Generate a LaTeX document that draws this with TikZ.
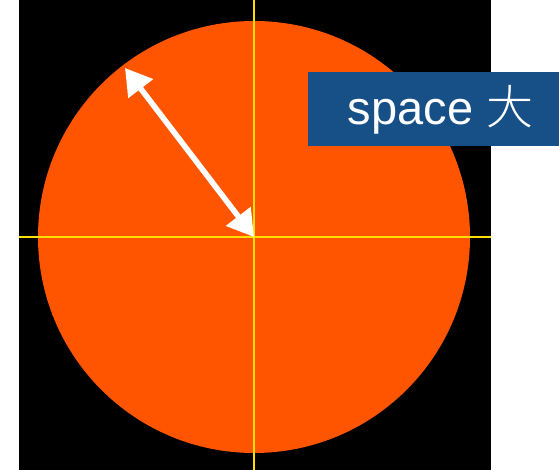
\documentclass[tikz,border=0pt]{standalone}
\usepackage{fontspec}
\setmainfont{Liberation Sans}
\newfontfamily\cjk{Noto Sans CJK SC Light}
\definecolor{skyblack}{RGB}{0,0,0}
\definecolor{sunorange}{RGB}{255,85,0}
\definecolor{axisyellow}{RGB}{255,224,0}
\definecolor{tagblue}{RGB}{23,80,135}
\usetikzlibrary{arrows.meta,positioning}

\begin{document}
\begin{tikzpicture}[x=0.5pt, y=-0.5pt,
        tagbox/.style={rectangle, fill=tagblue, inner sep=0pt, minimum width=125.5pt,
                       minimum height=37pt, text=white, font=\fontsize{23.5}{27}\selectfont},
        axisline/.style={axisyellow, line width=0.7pt},
        radarrow/.style={white, line width=2.8pt,
                         {Triangle[length=13pt, width=15pt]}-{Triangle[length=13pt, width=15pt]}}
      ]
        \useasboundingbox (0,0) rectangle (559,470);

        % Black backdrop
        \fill[skyblack] (19,0) rectangle (491,470);

        % Orange disc
        \coordinate (ctr) at (254,237);
        \fill[sunorange] (ctr) circle[radius=108pt];

        % Cross hairs
        \draw[axisline] (19,237) -- (491,237);
        \draw[axisline] (254,0) -- (254,470);

        % Radius arrow
        \coordinate (rim) at (125,68);
        \draw[radarrow] (rim) -- (ctr);

        % Label box
        \node[tagbox] (tag) at (433.5,109.5) {\hspace*{7pt}space {\cjk 大}};
      \end{tikzpicture}
\end{document}
